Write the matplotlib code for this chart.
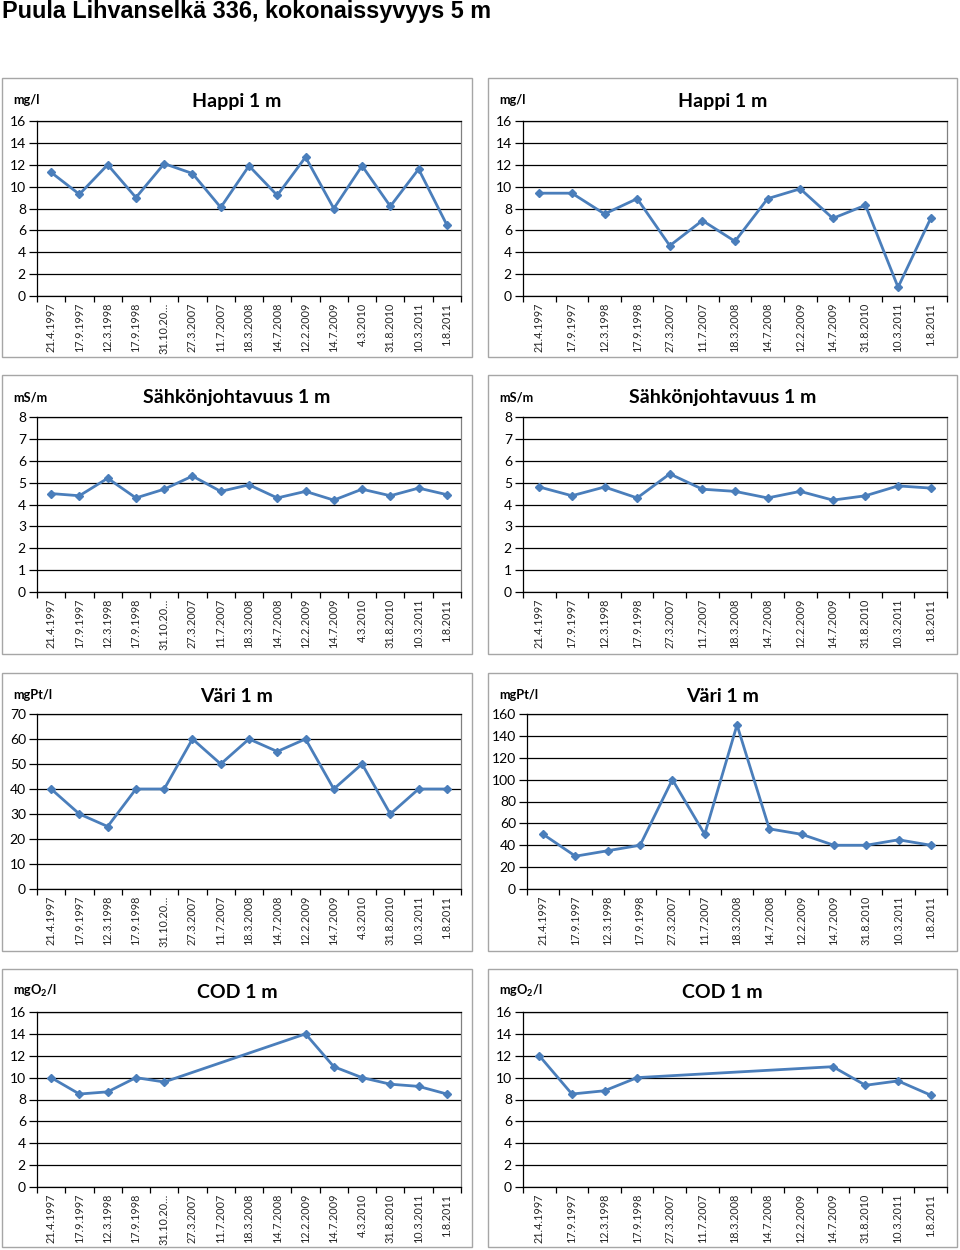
import numpy as np
import matplotlib
matplotlib.use('Agg')
import matplotlib.pyplot as plt
from matplotlib.patches import Rectangle

plt.rcParams['font.family'] = ['Lato', 'DejaVu Sans']
plt.rcParams['mathtext.fontset'] = 'custom'
plt.rcParams['mathtext.rm'] = 'Lato'
plt.rcParams['mathtext.bf'] = 'Lato:bold'

# sampling dates
dates_a = ['21.4.1997', '17.9.1997', '12.3.1998', '17.9.1998', '31.10.20…',
           '27.3.2007', '11.7.2007', '18.3.2008', '14.7.2008', '12.2.2009',
           '14.7.2009', '4.3.2010', '31.8.2010', '10.3.2011', '1.8.2011']
dates_b = ['21.4.1997', '17.9.1997', '12.3.1998', '17.9.1998', '27.3.2007',
           '11.7.2007', '18.3.2008', '14.7.2008', '12.2.2009', '14.7.2009',
           '31.8.2010', '10.3.2011', '1.8.2011']

nan = np.nan
happi_a = [11.3, 9.3, 12.0, 9.0, 12.1, 11.2, 8.1, 11.9, 9.2, 12.7, 8.0, 11.9, 8.2, 11.6, 6.5]
happi_b = [9.4, 9.4, 7.5, 8.9, 4.6, 6.9, 5.0, 8.9, 9.8, 7.1, 8.3, 0.8, 7.1]
sahko_a = [4.5, 4.4, 5.2, 4.3, 4.7, 5.3, 4.6, 4.9, 4.3, 4.6, 4.2, 4.7, 4.4, 4.75, 4.45]
sahko_b = [4.8, 4.4, 4.8, 4.3, 5.4, 4.7, 4.6, 4.3, 4.6, 4.2, 4.4, 4.85, 4.75]
vari_a = [40, 30, 25, 40, 40, 60, 50, 60, 55, 60, 40, 50, 30, 40, 40]
vari_b = [50, 30, 35, 40, 100, 50, 150, 55, 50, 40, 40, 45, 40]
cod_a = [10, 8.5, 8.7, 10, 9.6, nan, nan, nan, nan, 14, 11, 10, 9.4, 9.2, 8.5]
cod_b = [12, 8.5, 8.8, 10, nan, nan, nan, nan, nan, 11, 9.3, 9.7, 8.4]

W, H = 960, 1250
fig = plt.figure(figsize=(W / 100, H / 100), dpi=100)

fig.text(2 / W, 1 - 18 / H, 'Puula Lihvanselkä 336, kokonaissyvyys 5 m',
         fontsize=16.8, fontweight='bold', family='Liberation Sans',
         ha='left', va='baseline')

BLUE = '#4A7EBB'

def panel(frame, box, title, unit, cats, vals, ymax, ystep):
    fx0, fy0, fx1, fy1 = frame
    fig.patches.append(Rectangle((fx0 / W, 1 - fy1 / H), (fx1 - fx0) / W, (fy1 - fy0) / H,
                                 transform=fig.transFigure, fill=False,
                                 edgecolor='#A6A6A6', lw=1.0, zorder=0))
    x0, y0, x1, y1 = box
    ax = fig.add_axes([x0 / W, 1 - y1 / H, (x1 - x0) / W, (y1 - y0) / H])
    n = len(cats)
    v = np.array(vals, dtype=float)
    idx = np.arange(n)
    ok = ~np.isnan(v)
    ax.plot(idx[ok], v[ok], color=BLUE, lw=2.0, marker='D', ms=4.5,
            mfc=BLUE, mec=BLUE, zorder=3)
    ax.set_xlim(-0.5, n - 0.5)
    ax.set_ylim(0, ymax)
    ax.set_yticks(np.arange(0, ymax + 0.1, ystep))
    ax.yaxis.grid(True, color='black', lw=0.9)
    ax.set_axisbelow(True)
    ax.set_xticks(np.arange(-0.5, n, 1.0))
    ax.set_xticklabels([])
    ax.set_xticks(idx, minor=True)
    ax.set_xticklabels(cats, minor=True, rotation=90, fontsize=7.8, color='#262626')
    ax.tick_params(axis='x', which='major', length=4, width=0.9, direction='out')
    ax.tick_params(axis='x', which='minor', length=0, pad=5)
    ax.tick_params(axis='y', length=6, width=0.9, labelsize=10, pad=2)
    for s in ax.spines.values():
        s.set_color('black')
        s.set_linewidth(0.9)
    ax.spines['right'].set_color('#808080')
    cx = (fx0 + fx1) / 2
    fig.text(cx / W, 1 - (fy0 + 23) / H, title, fontsize=14, fontweight='bold',
             ha='center', va='center')
    fig.text((fx0 + 11) / W, 1 - (fy0 + 22) / H, unit, fontsize=9.2, fontweight='bold',
             ha='left', va='center')
    return ax

cols = [((2, 472), (37, 461)), ((488, 957), (523, 947))]
rows = [((78, 357), (121, 296)), ((375, 654), (417, 592)),
        ((673, 951), (714, 889)), ((969, 1247), (1012, 1187))]

specs = [
    ('Happi 1 m', 'mg/l', happi_a, happi_b, 16, 2, 16, 2),
    ('Sähkönjohtavuus 1 m', 'mS/m', sahko_a, sahko_b, 8, 1, 8, 1),
    ('Väri 1 m', 'mgPt/l', vari_a, vari_b, 70, 10, 160, 20),
    ('COD 1 m', r'mgO$_\mathbf{2}$/l', cod_a, cod_b, 16, 2, 16, 2),
]

for (frow, brow), (title, unit, va, vb, ma, sa, mb, sb) in zip(rows, specs):
    (fl, bl), (fr, br) = cols
    panel((fl[0], frow[0], fl[1], frow[1]), (bl[0], brow[0], bl[1], brow[1]),
          title, unit, dates_a, va, ma, sa)
    bx0 = 527 if mb >= 100 else br[0]
    panel((fr[0], frow[0], fr[1], frow[1]), (bx0, brow[0], br[1], brow[1]),
          title, unit, dates_b, vb, mb, sb)

fig.savefig('out.png', dpi=100)
